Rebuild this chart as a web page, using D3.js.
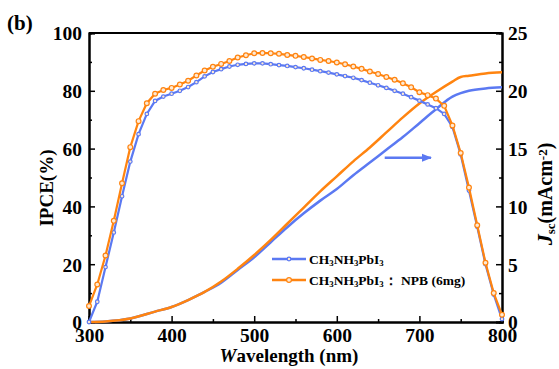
<!DOCTYPE html>
<html>
<head>
<meta charset="utf-8">
<script src="https://cdn.jsdelivr.net/npm/d3@7"></script>
<style>
  body { margin: 0; background: #fff; }
  svg text { font-family: "Liberation Serif", "Times New Roman", serif; font-weight: bold; }
</style>
</head>
<body>
<figure id="chart" style="margin:0"></figure>
<script>
// wavelengths for IPCE (nm)
const wavelength = d3.range(300, 801, 10);

// IPCE (%) for CH3NH3PbI3
const ipcePure = [0, 7, 19, 31, 43.5, 55.5, 65, 72, 76.5, 78, 79, 80, 81.3, 83, 85, 86.5, 87.5, 88.4, 89, 89.3,
  89.5, 89.5, 89.2, 88.9, 88.6, 88.2, 87.8, 87.3, 86.8, 86.3, 85.7, 85.1, 84.5, 83.7, 82.8, 81.9, 81, 80, 79, 77.8,
  76.6, 75.3, 74, 72, 67.5, 58, 45.5, 33, 20, 9.5, 1];

// IPCE (%) for CH3NH3PbI3 : NPB (6mg)
const ipceNpb = [5.5, 13, 23, 35, 48, 60.5, 69.5, 75.7, 79, 80.3, 81, 82.2, 83.5, 85.3, 87, 88.3, 89.3, 90.3, 91.5, 92.3,
  93, 93.1, 93, 92.8, 92.4, 92.1, 91.7, 91.2, 90.7, 90.3, 89.8, 89.2, 88.4, 87.6, 86.7, 85.8, 84.8, 83.8, 82.6, 81.2,
  79.5, 78.5, 77.3, 74.8, 68, 58.5, 46.5, 33.5, 20.5, 10, 2.5];

// integrated Jsc (mA cm-2)
const jscWavelength = [300, 320, 350, 380, 400, 420, 440, 460, 480, 500, 520, 540, 560, 580, 600, 620, 640, 660, 680, 700, 720, 740, 750, 760, 780, 800];
const jscPure = [0, 0.05, 0.3, 0.9, 1.3, 1.9, 2.6, 3.4, 4.5, 5.6, 6.9, 8.2, 9.4, 10.5, 11.5, 12.7, 13.8, 14.9, 16.0, 17.2, 18.4, 19.5, 19.8, 20.0, 20.2, 20.3];
const jscNpb = [0, 0.05, 0.3, 0.9, 1.3, 1.9, 2.6, 3.5, 4.6, 5.8, 7.1, 8.5, 9.9, 11.3, 12.6, 13.9, 15.1, 16.4, 17.7, 18.9, 19.9, 20.8, 21.2, 21.3, 21.5, 21.6];

const xTicks = [300, 400, 500, 600, 700, 800];
const yTicks = [0, 20, 40, 60, 80, 100];
const y2Ticks = [0, 5, 10, 15, 20, 25];

const blue = "#5b79f2";
const orange = "#ff8410";

const W = 559, H = 369;
const margin = { left: 89, top: 33, right: 57, bottom: 47 };
const width = W - margin.left - margin.right;
const height = H - margin.top - margin.bottom;

const svg = d3.select("figure#chart")
  .append("svg")
  .attr("width", W)
  .attr("height", H);

const g = svg.append("g")
  .attr("transform", "translate(" + margin.left + "," + margin.top + ")");

const x = d3.scaleLinear().domain([300, 800]).range([0, width]);
const y = d3.scaleLinear().domain([0, 100]).range([height, 0]);
const y2 = d3.scaleLinear().domain([0, 25]).range([height, 0]);

// minor ticks first, then major ticks with labels (all pointing inward)
const tickFont = "19.5px";

g.append("g").attr("transform", "translate(0," + height + ")")
  .call(d3.axisBottom(x).tickValues(d3.range(350, 800, 100)).tickSize(-3).tickFormat(""));
const xAxis = g.append("g").attr("transform", "translate(0," + height + ")")
  .call(d3.axisBottom(x).tickValues(xTicks).tickSize(-6).tickPadding(6));
xAxis.selectAll("text").style("font-size", tickFont).attr("fill", "#000");

g.append("g")
  .call(d3.axisLeft(y).tickValues(d3.range(10, 100, 20)).tickSize(-3).tickFormat(""));
const yAxis = g.append("g")
  .call(d3.axisLeft(y).tickValues(yTicks).tickSize(-6).tickPadding(7));
yAxis.selectAll("text").style("font-size", tickFont).attr("fill", "#000").attr("dy", "0.35em");

g.append("g").attr("transform", "translate(" + width + ",0)")
  .call(d3.axisRight(y2).tickValues(d3.range(2.5, 25, 5)).tickSize(-3).tickFormat(""));
const y2Axis = g.append("g").attr("transform", "translate(" + width + ",0)")
  .call(d3.axisRight(y2).tickValues(y2Ticks).tickSize(-6).tickPadding(6));
y2Axis.selectAll("text").style("font-size", tickFont).attr("fill", "#000").attr("dy", "0.35em");

// top border
g.append("line").attr("x1", 0).attr("x2", width).attr("y1", 0).attr("y2", 0)
  .attr("stroke", "#000").attr("stroke-width", 2);

g.selectAll(".domain").attr("stroke", "#000").attr("stroke-width", 2);
g.selectAll(".tick line").attr("stroke", "#000").attr("stroke-width", 1.5);

// Jsc lines
const jLine = d3.line().x(d => x(d[0])).y(d => y2(d[1])).curve(d3.curveMonotoneX);
g.append("path").datum(jscWavelength.map((w, i) => [w, jscPure[i]]))
  .attr("d", jLine).attr("fill", "none").attr("stroke", blue).attr("stroke-width", 2.5);
g.append("path").datum(jscWavelength.map((w, i) => [w, jscNpb[i]]))
  .attr("d", jLine).attr("fill", "none").attr("stroke", orange).attr("stroke-width", 2.5);

// IPCE lines with markers
const iLine = d3.line().x(d => x(d[0])).y(d => y(d[1]));
function drawIpce(vals, color, r) {
  const pts = wavelength.map((w, i) => [w, vals[i]]);
  g.append("path").datum(pts).attr("d", iLine)
    .attr("fill", "none").attr("stroke", color).attr("stroke-width", 2.2);
  g.append("g").selectAll("circle").data(pts).enter().append("circle")
    .attr("cx", d => x(d[0])).attr("cy", d => y(d[1])).attr("r", r)
    .attr("fill", "#fde9d4").attr("stroke", color).attr("stroke-width", 1.2);
}
drawIpce(ipcePure, blue, 1.8);
drawIpce(ipceNpb, orange, 2.4);

// arrow pointing toward right axis
svg.append("defs").append("marker").attr("id", "arr")
  .attr("viewBox", "0 0 10 10").attr("refX", 9).attr("refY", 5)
  .attr("markerWidth", 4).attr("markerHeight", 4).attr("orient", "auto")
  .append("path").attr("d", "M0,1 L10,5 L0,9 Z").attr("fill", blue);
g.append("line")
  .attr("x1", x(658)).attr("x2", x(714)).attr("y1", y2(14.2)).attr("y2", y2(14.2))
  .attr("stroke", blue).attr("stroke-width", 2.5).attr("marker-end", "url(#arr)");

// helper for text with sub/superscripts
function richText(sel, parts, size) {
  parts.forEach(p => {
    const t = sel.append("tspan").text(p.t);
    if (p.sub) t.attr("baseline-shift", "-25%").style("font-size", (size * 0.65) + "px");
    if (p.sup) t.attr("baseline-shift", "40%").style("font-size", (size * 0.65) + "px");
    if (p.it) t.style("font-style", "italic");
    if (p.big) t.style("font-size", (size * p.big) + "px");
  });
}

// legend
const legend = g.append("g").attr("transform", "translate(" + (272 - margin.left) + ",0)");
const legendItems = [
  { color: blue, r: 1.8, y: 259, parts: [{ t: "CH" }, { t: "3", sub: 1 }, { t: "NH" }, { t: "3", sub: 1 }, { t: "PbI" }, { t: "3", sub: 1 }] },
  { color: orange, r: 2.4, y: 280, parts: [{ t: "CH" }, { t: "3", sub: 1 }, { t: "NH" }, { t: "3", sub: 1 }, { t: "PbI" }, { t: "3", sub: 1 }, { t: "：  NPB (6mg)" }] }
];
legendItems.forEach(it => {
  const yy = it.y - margin.top;
  legend.append("line").attr("x1", 0).attr("x2", 34).attr("y1", yy).attr("y2", yy)
    .attr("stroke", it.color).attr("stroke-width", 2.5);
  legend.append("circle").attr("cx", 17).attr("cy", yy).attr("r", it.r)
    .attr("fill", "#fde9d4").attr("stroke", it.color).attr("stroke-width", 1.2);
  const t = legend.append("text").attr("x", 37).attr("y", yy + 4.5).style("font-size", "13.5px");
  richText(t, it.parts, 13.5);
});

// axis titles
const xt = svg.append("text").attr("x", 289).attr("y", 362).attr("text-anchor", "middle").style("font-size", "19px");
richText(xt, [{ t: "W", it: 1 }, { t: "avelength (nm)" }], 19);

svg.append("text").attr("transform", "translate(53,188) rotate(-90)")
  .attr("text-anchor", "middle").style("font-size", "19px").text("IPCE(%)");

const yt2 = svg.append("text").attr("transform", "translate(552,194) rotate(-90)")
  .attr("text-anchor", "middle").style("font-size", "20px");
richText(yt2, [{ t: "J", it: 1, big: 1.1 }, { t: "sc", sub: 1 }, { t: "(mAcm" }, { t: "-2", sup: 1 }, { t: ")" }], 20);

svg.append("text").attr("x", 7).attr("y", 30).style("font-size", "21px").text("(b)");
</script>
</body>
</html>
